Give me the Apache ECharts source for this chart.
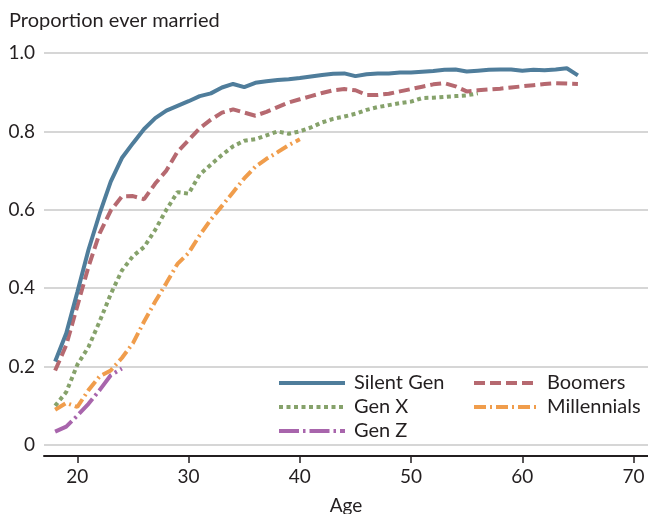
<!DOCTYPE html>
<html>
<head>
<meta charset="utf-8">
<script src="https://cdn.jsdelivr.net/npm/echarts@6/dist/echarts.min.js"></script>
<style>
html,body{margin:0;padding:0;background:#fff;}
#chart{width:648px;height:514px;}
</style>
</head>
<body>
<div id="chart"></div>
<script>
const startAge = 18;
const silentGen = [0.213,0.285,0.39,0.498,0.59,0.672,0.732,0.77,0.806,0.834,0.853,0.865,0.877,0.89,0.897,0.912,0.921,0.913,0.924,0.928,0.931,0.933,0.936,0.94,0.944,0.947,0.948,0.941,0.946,0.948,0.948,0.95,0.95,0.952,0.954,0.957,0.958,0.953,0.955,0.957,0.958,0.958,0.955,0.957,0.956,0.958,0.961,0.943];
const boomers = [0.19,0.255,0.355,0.455,0.54,0.598,0.634,0.635,0.627,0.667,0.70,0.748,0.778,0.808,0.83,0.848,0.856,0.848,0.84,0.85,0.862,0.874,0.882,0.89,0.898,0.905,0.908,0.905,0.893,0.893,0.896,0.902,0.908,0.914,0.92,0.923,0.915,0.902,0.905,0.907,0.909,0.912,0.915,0.918,0.921,0.923,0.922,0.921];
const genX = [0.10,0.135,0.205,0.25,0.315,0.385,0.445,0.482,0.505,0.549,0.60,0.645,0.641,0.69,0.715,0.74,0.762,0.776,0.78,0.79,0.80,0.794,0.80,0.81,0.823,0.832,0.838,0.845,0.855,0.862,0.867,0.872,0.876,0.885,0.886,0.888,0.89,0.892,0.897];
const millennials = [0.09,0.107,0.097,0.14,0.175,0.19,0.222,0.26,0.315,0.366,0.413,0.462,0.49,0.535,0.575,0.61,0.645,0.68,0.71,0.73,0.747,0.765,0.78];
const genZ = [0.034,0.047,0.075,0.105,0.14,0.178,0.195];
const xTicks = [20,30,40,50,60,70];
const yTicks = [0,0.2,0.4,0.6,0.8,1.0];

function pairs(vals){ return vals.map((v,i)=>[startAge+i, v]); }

const FONT = 'Lato';
const TXT = '#231f20';
const chart = echarts.init(document.getElementById('chart'), null, {renderer:'canvas'});

const styles = {
  'Silent Gen': {color:'#4f7d9b', type:'solid'},
  'Boomers': {color:'#b66970', type:[11,5]},
  'Gen X': {color:'#86a26b', type:[4,3.5]},
  'Millennials': {color:'#f09d4c', type:[12,4,2,4]},
  'Gen Z': {color:'#a865ac', type:[20,4,2.5,4]}
};
const dataMap = {'Silent Gen':silentGen,'Boomers':boomers,'Gen X':genX,'Millennials':millennials,'Gen Z':genZ};

const order = ['Gen Z','Millennials','Gen X','Boomers','Silent Gen'];
const series = order.map(n => ({
  name: n,
  type: 'line',
  data: pairs(dataMap[n]),
  showSymbol: false,
  symbol: 'none',
  animation: false,
  lineStyle: {color: styles[n].color, width: 4, type: styles[n].type, cap:'butt'},
  itemStyle: {color: styles[n].color},
  z: 2
}));

const legendCommon = {
  orient: 'vertical', top: 373, padding: 0,
  itemHeight: 4, itemGap: 4,
  itemStyle: {opacity: 0, color: 'rgba(0,0,0,0)', borderWidth: 0},
  lineStyle: {width: 4},
  selectedMode: false
};

chart.setOption({
  backgroundColor: '#fff',
  animation: false,
  title: {
    text: 'Proportion ever married',
    left: 9, top: 11, padding: 0,
    textStyle: {fontFamily: FONT, fontSize: 20, fontWeight: 'normal', color: TXT}
  },
  legend: [
    Object.assign({}, legendCommon, {
      data: ['Silent Gen','Gen X','Gen Z'],
      left: 277, itemWidth: 66,
      textStyle: {fontFamily: FONT, fontSize: 20, color: TXT, padding:[0,0,0,4]}
    }),
    Object.assign({}, legendCommon, {
      data: ['Boomers','Millennials'],
      left: 472, itemWidth: 64,
      textStyle: {fontFamily: FONT, fontSize: 20, color: TXT, padding:[0,0,0,4]}
    })
  ],
  grid: {left: 44, right: 0, top: 53, bottom: 69, containLabel: false, outerBoundsMode: 'none'},
  xAxis: {
    type: 'value', min: 17, max: 71.3,
    offset: 11,
    name: 'Age', nameLocation: 'middle', nameGap: 40,
    nameTextStyle: {fontFamily: FONT, fontSize: 19, color: TXT},
    axisLine: {show: true, onZero: false, lineStyle: {color: '#231f20', width: 2}},
    axisTick: {show: true, length: 7, customValues: xTicks, lineStyle: {color: '#231f20', width: 1.5}},
    axisLabel: {customValues: xTicks, margin: 11, fontFamily: FONT, fontSize: 19, color: TXT},
    splitLine: {show: false}
  },
  yAxis: {
    type: 'value', min: 0, max: 1, interval: 0.2,
    axisLine: {show: false}, axisTick: {show: false},
    axisLabel: {
      margin: 9, fontFamily: FONT, fontSize: 19, color: TXT,
      formatter: v => { const t = yTicks.find(y => Math.abs(y - v) < 1e-9); return t === 0 ? '0' : (t !== undefined ? t.toFixed(1) : ''); }
    },
    splitLine: {show: true, lineStyle: {color: '#c8c8c8', width: 1.5}}
  },
  series: series
});
</script>
</body>
</html>
